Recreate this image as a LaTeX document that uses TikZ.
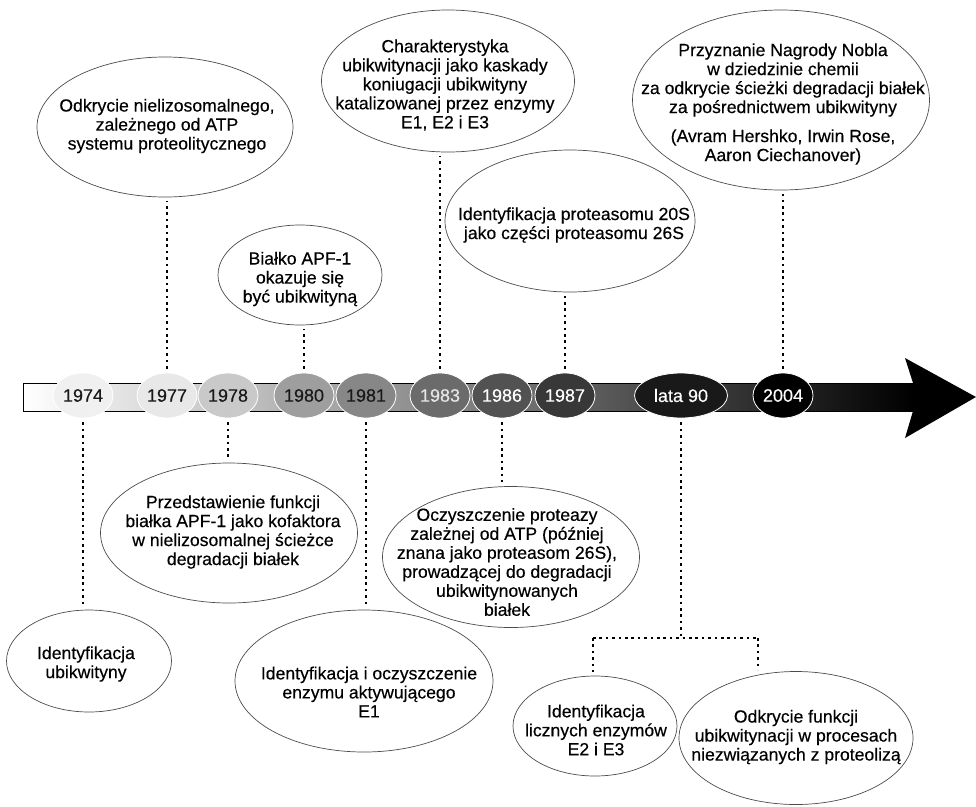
\documentclass[tikz,border=0pt]{standalone}
\usepackage{fontspec}
\setmainfont{Liberation Sans}
\newfontfamily\evfont[FakeBold=0.35]{Liberation Sans}
\usetikzlibrary{shapes.geometric}
\begin{document}
\begin{tikzpicture}[x=1pt,y=-1pt,
  ev/.style={draw=black!70, line width=0.7pt, ellipse, inner sep=0pt, fill=white},
  txt/.style={align=center, font=\evfont\fontsize{17.6}{19}\selectfont, inner sep=0pt, text=black},
  yr/.style={ellipse, draw=white, line width=0.8pt, inner sep=0pt, minimum height=45pt, minimum width=60pt, font=\evfont\fontsize{18}{19}\selectfont},
  dots/.style={line width=2.6pt, dash pattern=on 2.6pt off 3.8pt, shorten >=4pt, shorten <=4pt}]
\useasboundingbox (0,0) rectangle (976,806);
% timeline bar and arrow head
\path[left color=white, right color=black, draw=black, line width=0.8pt]
  (23,383) rectangle (915,411);
\fill[black] (913,383) -- (905,358) -- (976,397) -- (905,438) -- (913,411) -- cycle;
% year ellipses
\node[yr, fill=black!6, text=black!90] (y74) at (83,395.5) {1974};
\node[yr, fill=black!9, text=black!90] (y77) at (167,395.5) {1977};
\node[yr, fill=black!21, text=black!90] (y78) at (228,395.5) {1978};
\node[yr, fill=black!38, text=black!90] (y80) at (304,395.5) {1980};
\node[yr, fill=black!47, text=black!90] (y81) at (366,395.5) {1981};
\node[yr, fill=black!58, text=white!90!black] (y83) at (440,395.5) {1983};
\node[yr, fill=black!68, text=white] (y86) at (502,395.5) {1986};
\node[yr, fill=black!78, text=white] (y87) at (565,395.5) {1987};
\node[yr, fill=black!90, text=white, minimum width=93pt] (y90) at (681,395.5) {lata 90};
\node[yr, fill=black, text=white] (y04) at (783,395.5) {2004};
% upper events
\node[ev, minimum width=256pt, minimum height=140pt] (e77) at (165,127) {};
\node[txt] (t77) at (167,126) {Odkrycie nielizosomalnego,\\zależnego od ATP\\systemu proteolitycznego};
\node[ev, minimum width=164pt, minimum height=100pt] (e80) at (300,275) {};
\node[txt] (t80) at (300,279) {Białko APF-1\\okazuje się\\być ubikwityną};
\node[ev, minimum width=253pt, minimum height=142pt] (e83) at (448,81) {};
\node[txt] (t83) at (445,85) {Charakterystyka\\ubikwitynacji jako kaskady\\koniugacji ubikwityny\\katalizowanej przez enzymy\\E1, E2 i E3};
\node[ev, minimum width=250pt, minimum height=142pt] (e87) at (570,221) {};
\node[txt] (t87) at (574,225) {Identyfikacja proteasomu 20S\\jako części proteasomu 26S};
\node[ev, minimum width=297pt, minimum height=180pt] (e04) at (781,100) {};
\node[txt] (t04) at (783,104) {Przyznanie Nagrody Nobla\\w dziedzinie chemii\\za odkrycie ścieżki degradacji białek\\za pośrednictwem ubikwityny\\[10pt](Avram Hershko, Irwin Rose,\\Aaron Ciechanover)};
% lower events
\node[ev, minimum width=165pt, minimum height=102pt] (e74) at (89,661) {};
\node[txt] (t74) at (86,664) {Identyfikacja\\ubikwityny};
\node[ev, minimum width=257pt, minimum height=140pt] (e78) at (229,533) {};
\node[txt] (t78) at (233,532) {Przedstawienie funkcji\\białka APF-1 jako kofaktora\\w nielizosomalnej ścieżce\\degradacji białek};
\node[ev, minimum width=258pt, minimum height=142pt] (e81) at (364,681) {};
\node[txt] (t81) at (369,692) {Identyfikacja i oczyszczenie\\enzymu aktywującego\\E1};
\node[ev, minimum width=257pt, minimum height=141pt] (e86) at (511,557) {};
\node[txt] (t86) at (507,562) {Oczyszczenie proteazy\\zależnej od ATP (później\\znana jako proteasom 26S),\\prowadzącej do degradacji\\ubikwitynowanych\\białek};
\node[ev, minimum width=164pt, minimum height=100pt] (e90a) at (595,726) {};
\node[txt] (t90a) at (596,730) {Identyfikacja\\licznych enzymów\\E2 i E3};
\node[ev, minimum width=234pt, minimum height=133pt] (e90b) at (796,738) {};
\node[txt] (t90b) at (796,737) {Odkrycie funkcji\\ubikwitynacji w procesach\\niezwiązanych z proteolizą};
% connectors up
\draw[dots] (y77.north) -- (y77.north |- e77.south);
\draw[dots] (y80.north) -- (y80.north |- e80.south);
\draw[dots] (y83.north) -- (y83.north |- e83.south);
\draw[dots] (y87.north) -- (y87.north |- e87.south);
\draw[dots] (y04.north) -- (y04.north |- e04.south);
% connectors down
\draw[dots] (y74.south) -- (y74.south |- e74.north);
\draw[dots] (y78.south) -- (y78.south |- e78.north);
\draw[dots] (y81.south) -- (y81.south |- e81.north);
\draw[dots] (y86.south) -- (y86.south |- e86.north);
\coordinate (jL) at (593,638);
\coordinate (jR) at (758,638);
\draw[dots, shorten >=0pt] (y90.south) -- (y90.south |- jL);
\draw[dots, shorten >=0pt, shorten <=0pt] (jL) -- (jR);
\draw[dots, shorten <=0pt] (jL) -- (jL |- e90a.north);
\draw[dots, shorten <=0pt, shorten >=2pt] (jR) -- (758,672);
\end{tikzpicture}
\end{document}
